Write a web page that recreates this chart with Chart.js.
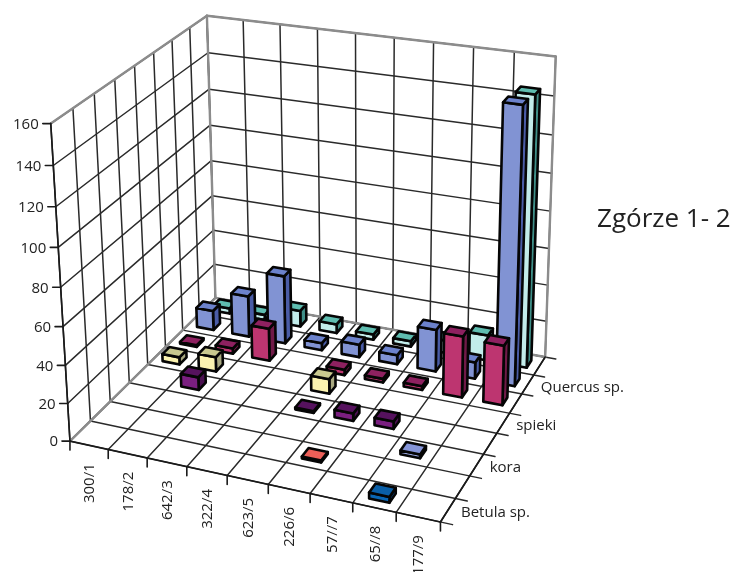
<!DOCTYPE html>
<html>
<head>
<meta charset="utf-8">
<title>Zgórze 1- 2</title>
<script src="https://cdn.jsdelivr.net/npm/chart.js@4/dist/chart.umd.min.js"></script>
<style>
  body { margin: 0; background: #fff; }
  canvas { display: block; }
</style>
</head>
<body>
<canvas id="chart" width="731" height="572"></canvas>
<script>
const chartTitle = 'Zgórze 1- 2';
const categories = ['300/1', '178/2', '642/3', '322/4', '623/5', '226/6', '57//7', '65//8', '177/9'];
// front row to back row, only every second series has a visible name
const seriesLabels = ['Betula sp.', '', 'kora', '', 'spieki', '', 'Quercus sp.', ''];

const row1 = [null, null, null, null, null, null, null, 3, null];
const row2 = [null, null, null, null, null, 1, null, null, null];
const row3 = [null, null, null, null, null, null, null, 2, null];
const row4 = [null, 7, null, null, 1, 4, 4, null, null];
const row5 = [4, 8, null, null, 8, null, null, null, null];
const row6 = [1, 3, 18, null, 3, 2, 2, 33, 32];
const row7 = [11, 23, 38, 4, 7, 5, 23, 9, 147];
const row8 = [3, 3, 9, 5, 3, 3, 7, 14, 145];
const allRows = [row1, row2, row3, row4, row5, row6, row7, row8];

// front, side, top
const rowColors = [
  ['#0a66b4', '#063a70', '#0a5fa8'],
  ['#f0685f', '#a83c38', '#ec5f58'],
  ['#98a6e0', '#5d6aa8', '#8595d8'],
  ['#7a1f80', '#4a1050', '#56125e'],
  ['#fbf3b0', '#a8a880', '#c9c98f'],
  ['#bd3570', '#701a48', '#8e2160'],
  ['#8193d3', '#4a5ca6', '#6c82cc'],
  ['#c2ecea', '#3f8f88', '#5fbdb0']
];

const BAR_W = 0.47;
const BAR_D = 0.4;

// screen corners of the plot box: [x, depth, value] fractions -> pixel
const cameraPoints = [
  [0, 0, 0, 72, 440], [0, 0, 0.5, 61, 290], [0, 0, 1, 50, 121],
  [0, 1, 0, 213, 298], [0, 1, 0.5, 211, 162], [0, 1, 1, 208, 15],
  [1, 0, 0, 438, 523], [1, 1, 0, 547, 355], [1, 1, 1, 555, 57],
  [5 / 9, 0, 0, 268, 485], [1, 0.5, 0, 498, 433], [5 / 9, 1, 1, 394, 39],
  [0, 0.5, 1, 135, 65]
];

function solve(A, b) {
  const n = b.length;
  for (let i = 0; i < n; i++) {
    let p = i;
    for (let r = i + 1; r < n; r++) if (Math.abs(A[r][i]) > Math.abs(A[p][i])) p = r;
    [A[i], A[p]] = [A[p], A[i]];
    [b[i], b[p]] = [b[p], b[i]];
    for (let r = i + 1; r < n; r++) {
      const f = A[r][i] / A[i][i];
      for (let c = i; c < n; c++) A[r][c] -= f * A[i][c];
      b[r] -= f * b[i];
    }
  }
  const x = new Array(n).fill(0);
  for (let i = n - 1; i >= 0; i--) {
    let s = b[i];
    for (let c = i + 1; c < n; c++) s -= A[i][c] * x[c];
    x[i] = s / A[i][i];
  }
  return x;
}

function fitCamera(points) {
  const rows = [], rhs = [];
  points.forEach(([X, Y, Z, u, v]) => {
    rows.push([X, Y, Z, 1, 0, 0, 0, 0, -u * X, -u * Y, -u * Z]); rhs.push(u);
    rows.push([0, 0, 0, 0, X, Y, Z, 1, -v * X, -v * Y, -v * Z]); rhs.push(v);
  });
  const N = [], t = [];
  for (let i = 0; i < 11; i++) {
    N.push(new Array(11).fill(0));
    t.push(0);
    rows.forEach((r, k) => {
      for (let j = 0; j < 11; j++) N[i][j] += r[i] * r[j];
      t[i] += r[i] * rhs[k];
    });
  }
  return solve(N, t);
}

const cam = fitCamera(cameraPoints);

function project(X, Y, Z) {
  const w = cam[8] * X + cam[9] * Y + cam[10] * Z + 1;
  return [
    (cam[0] * X + cam[1] * Y + cam[2] * Z + cam[3]) / w,
    (cam[4] * X + cam[5] * Y + cam[6] * Z + cam[7]) / w
  ];
}

function line(ctx, a, b) {
  ctx.beginPath();
  ctx.moveTo(a[0], a[1]);
  ctx.lineTo(b[0], b[1]);
  ctx.stroke();
}

function face(ctx, pts, fill) {
  ctx.beginPath();
  pts.forEach((p, i) => i ? ctx.lineTo(p[0], p[1]) : ctx.moveTo(p[0], p[1]));
  ctx.closePath();
  ctx.fillStyle = fill;
  ctx.fill();
  ctx.stroke();
}

const box3d = {
  id: 'box3d',
  afterDatasetsDraw(chart) {
    const ctx = chart.ctx;
    const area = chart.chartArea;
    const xs = chart.scales.x, ys = chart.scales.y, ds = chart.scales.depth;
    const fx = i => (xs.getPixelForValue(i) - area.left) / area.width;
    const fd = i => (ds.getPixelForValue(i) - area.top) / area.height;
    const fz = v => (area.bottom - ys.getPixelForValue(v)) / area.height;
    const cellX = 1 / categories.length, cellD = 1 / seriesLabels.length;

    ctx.save();
    ctx.lineCap = 'round';

    // walls and floor grid
    ctx.strokeStyle = '#2a2a2a';
    ctx.lineWidth = 1.5;
    ys.ticks.forEach(t => {
      const z = fz(t.value);
      line(ctx, project(0, 0, z), project(0, 1, z));
      line(ctx, project(0, 1, z), project(1, 1, z));
    });
    for (let i = 0; i <= categories.length; i++) {
      const x = i * cellX;
      line(ctx, project(x, 1, 0), project(x, 1, 1));
      line(ctx, project(x, 0, 0), project(x, 1, 0));
    }
    for (let i = 0; i <= seriesLabels.length; i++) {
      const d = i * cellD;
      line(ctx, project(0, d, 0), project(0, d, 1));
      line(ctx, project(0, d, 0), project(1.03, d, 0));
    }

    // grey frame of the walls
    ctx.strokeStyle = '#8c8c8c';
    ctx.lineWidth = 2.4;
    line(ctx, project(0, 0, 1), project(0, 1, 1));
    line(ctx, project(0, 1, 1), project(1, 1, 1));
    line(ctx, project(1, 1, 1), project(1, 1, 0));
    line(ctx, project(0, 1, 1), project(0, 1, 0));
    line(ctx, project(0, 1, 0), project(0, 0, 0));
    line(ctx, project(0, 1, 0), project(1, 1, 0));

    // axes and tick marks
    ctx.strokeStyle = '#1a1a1a';
    ctx.lineWidth = 1.6;
    line(ctx, project(0, 0, 0), project(0, 0, 1));
    line(ctx, project(0, 0, 0), project(1, 0, 0));
    line(ctx, project(1, 0, 0), project(1, 1, 0));

    ctx.font = '15px "Open Sans"';
    ctx.fillStyle = '#222';
    ctx.textBaseline = 'middle';
    ctx.textAlign = 'right';
    ys.ticks.forEach(t => {
      const p = project(0, 0, fz(t.value));
      line(ctx, p, [p[0] - 8, p[1]]);
      ctx.fillText(String(t.value), p[0] - 12, p[1] + 1);
    });
    for (let i = 0; i <= categories.length; i++) {
      const p = project(i * cellX, 0, 0);
      line(ctx, p, [p[0], p[1] + 9]);
    }
    xs.getLabels().forEach((label, i) => {
      const p = project(fx(i), 0, 0);
      ctx.save();
      ctx.translate(p[0] + 1, p[1] + 18);
      ctx.rotate(-Math.PI / 2);
      ctx.textAlign = 'right';
      ctx.fillText(label, 0, 0);
      ctx.restore();
    });
    ctx.textAlign = 'left';
    ds.getLabels().forEach((label, i) => {
      if (!label) return;
      const p = project(1, fd(i), 0);
      ctx.fillText(label, p[0] + 13, p[1] + 3);
    });

    // bars, back row first, left to right
    ctx.strokeStyle = '#050505';
    ctx.lineWidth = 2.6;
    ctx.lineJoin = 'round';
    for (let r = allRows.length - 1; r >= 0; r--) {
      const colors = rowColors[r];
      chart.data.datasets[r].data.forEach((value, i) => {
        if (value === null) return;
        const x0 = fx(i) - BAR_W * cellX / 2, x1 = fx(i) + BAR_W * cellX / 2;
        const d0 = fd(r) - BAR_D * cellD / 2, d1 = fd(r) + BAR_D * cellD / 2;
        const z = fz(value);
        face(ctx, [project(x1, d0, 0), project(x1, d1, 0), project(x1, d1, z), project(x1, d0, z)], colors[1]);
        face(ctx, [project(x0, d0, 0), project(x1, d0, 0), project(x1, d0, z), project(x0, d0, z)], colors[0]);
        face(ctx, [project(x0, d0, z), project(x1, d0, z), project(x1, d1, z), project(x0, d1, z)], colors[2]);
      });
    }

    ctx.fillStyle = '#222';
    ctx.font = '26px "Open Sans"';
    ctx.textAlign = 'left';
    ctx.fillText(chartTitle, 597, 220);
    ctx.restore();
  }
};

new Chart(document.getElementById('chart'), {
  type: 'bar',
  data: {
    labels: categories,
    datasets: allRows.map((values, r) => ({
      label: seriesLabels[r] || ('row ' + (r + 1)),
      data: values,
      backgroundColor: 'transparent',
      borderWidth: 0
    }))
  },
  options: {
    responsive: false,
    animation: false,
    layout: { padding: 0 },
    plugins: { legend: { display: false }, tooltip: { enabled: false } },
    scales: {
      x: { display: false },
      y: { display: false, min: 0, max: 160, ticks: { stepSize: 20 } },
      depth: { type: 'category', axis: 'y', position: 'right', display: false, offset: true, labels: seriesLabels }
    }
  },
  plugins: [box3d]
});
</script>
</body>
</html>
